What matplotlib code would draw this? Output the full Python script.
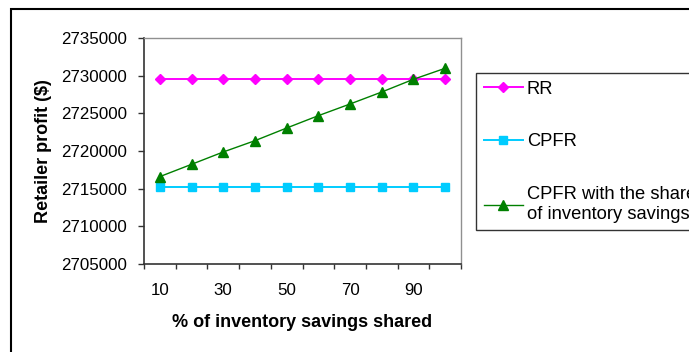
import numpy as np
import matplotlib
matplotlib.use("Agg")
import matplotlib.pyplot as plt
from matplotlib.patches import Rectangle

plt.rcParams['font.family'] = ['Liberation Sans', 'DejaVu Sans']

# % of inventory savings shared (category axis)
shared_pct = [10, 20, 30, 40, 50, 60, 70, 80, 90, 100]
tick_labels = ["10", "30", "50", "70", "90"]

# retailer profit ($)
rr = [2729600] * 10
cpfr = [2715250] * 10
cpfr_shared = [2716600, 2718230, 2719870, 2721370, 2723050,
               2724690, 2726240, 2727830, 2729520, 2730980]

W, H = 689, 352
fig = plt.figure(figsize=(W / 100, H / 100), dpi=100)
ax = fig.add_axes([144 / W, 1 - 264 / H, (461 - 144) / W, (264 - 38) / H])

x = np.arange(len(shared_pct))
ax.plot(x, rr, color="#FF00FF", lw=1.4, marker="D", ms=5.5, label="RR")
ax.plot(x, cpfr, color="#00CCFF", lw=1.4, marker="s", ms=6, label="CPFR")
ax.plot(x, cpfr_shared, color="#008000", lw=1.0, marker="^", ms=7.5,
        label="CPFR with the share\nof inventory savings")

ax.set_xlim(-0.5, len(shared_pct) - 0.5)
ax.set_ylim(2705000, 2735000)
ax.set_yticks(np.arange(2705000, 2735001, 5000))
ax.set_yticklabels([f"{v:d}" for v in np.arange(2705000, 2735001, 5000)])

# ticks between categories, labels on every other category
ax.set_xticks(np.arange(-0.5, len(shared_pct), 1.0))
ax.set_xticklabels([])
ax.set_xticks(x[::2], minor=True)
ax.set_xticklabels(tick_labels, minor=True)
ax.tick_params(axis="x", which="minor", length=0, pad=14, labelsize=12.2)
ax.tick_params(axis="x", which="major", length=3.5, width=1, direction="out", color="#333333")
ax.tick_params(axis="y", length=4, width=1, direction="out", labelsize=12.2, pad=8, color="#333333")

for side in ["left", "bottom"]:
    ax.spines[side].set_color("#333333")
    ax.spines[side].set_linewidth(1.2)
for side in ["top", "right"]:
    ax.spines[side].set_color("#909090")
    ax.spines[side].set_linewidth(1.0)

ax.set_ylabel("Retailer profit ($)", fontsize=13, fontweight="bold", labelpad=7)
ax.set_xlabel("% of inventory savings shared", fontsize=13, fontweight="bold", labelpad=11)

leg = ax.legend(loc="upper left", bbox_to_anchor=(476 / W, 1 - 73 / H),
                bbox_transform=fig.transFigure, frameon=True, fancybox=False,
                fontsize=13.2, handlelength=2.13, handletextpad=0.22,
                labelspacing=1.95, borderpad=0.42, borderaxespad=0)
leg.get_frame().set_edgecolor("black")
leg.get_frame().set_linewidth(1.0)

# outer chart border
fig.patches.append(Rectangle((11 / W, -0.1), 1.2, 1 - 9 / H + 0.1,
                             transform=fig.transFigure, fill=False,
                             edgecolor="black", lw=1.5, clip_on=False))

fig.savefig("out.png", dpi=100)
